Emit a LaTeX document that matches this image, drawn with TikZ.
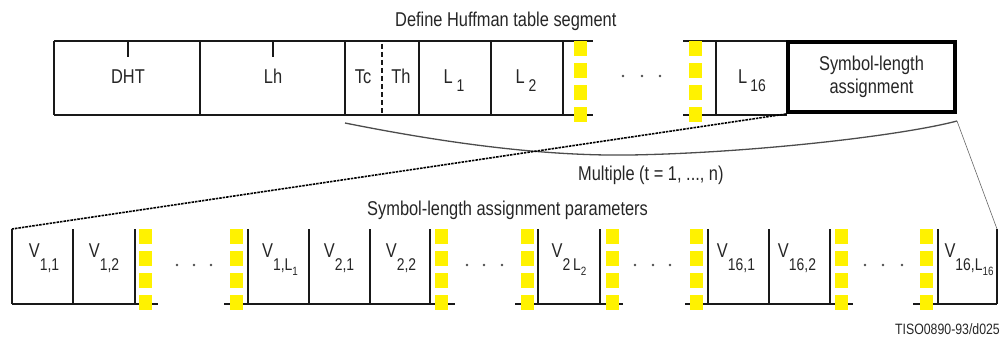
\documentclass[tikz,border=0pt]{standalone}
\usepackage{fontspec}
\setmainfont{Liberation Sans}[FakeStretch=0.82]
\newcommand{\lsub}[1]{\raisebox{-7pt}{\fontsize{17}{17}\selectfont #1}}
\newcommand{\vsub}[1]{\raisebox{-13pt}{\fontsize{17}{17}\selectfont #1}}
\newcommand{\vsubsub}[1]{\raisebox{-5pt}{\fontsize{12}{12}\selectfont #1}}
\begin{document}
\begin{tikzpicture}[x=1pt,y=-1pt,
  every node/.style={font=\fontsize{20}{23}\selectfont, text=black!85, inner sep=0pt},
  rule/.style={draw=black!90, line width=1.3pt},
  ycol/.style={fill=yellow, draw=none},
  thickbox/.style={draw=black, line width=4pt},
  dotline/.style={draw=black, line width=1.6pt, dash pattern=on 2.5pt off 1pt},
  curveline/.style={draw=black!70, line width=1.3pt},
  thinline/.style={draw=black!60, line width=0.6pt}
]
\useasboundingbox (0,0) rectangle (1001,337);

% ---------- top row ----------
\draw[rule] (54,41) -- (593,41) (54,115) -- (593,115);
\draw[rule] (683,41) -- (787,41) (683,115) -- (787,115);
\foreach \x in {54,200,345,419,491,563,716} \draw[rule] (\x,41) -- (\x,115);
\foreach \x in {128,273} \draw[rule] (\x,41) -- (\x,57);
\draw[rule, dash pattern=on 5pt off 3pt] (382,44) -- (382,115);

\node[thickbox, minimum width=167pt, minimum height=70pt, align=center] (sym) at (871.5,77) {Symbol-length\\assignment};

\node[anchor=base] (dht) at (128,84) {DHT};
\node[anchor=base] (lh) at (273,84) {Lh};
\node[anchor=base] (tc) at (363,84) {Tc};
\node[anchor=base] (th) at (401,84) {Th};
\node[anchor=base] (l1) at (454,84) {L\hspace{4pt}\lsub{1}};
\node[anchor=base] (l2) at (526,84) {L\hspace{4pt}\lsub{2}};
\node[anchor=base] (l16) at (752,84) {L\hspace{3pt}\lsub{16}};

\foreach \x in {623,642,660} \fill[black!70] (\x,76) circle (1.3pt);

% ---------- texts ----------
\node[anchor=base west] (title) at (395,27) {Define Huffman table segment};
\node[anchor=base west] (mult) at (578,180) {Multiple (t = 1, ..., n)};
\node[anchor=base west] (params) at (367,215) {Symbol-length assignment parameters};
\node[anchor=base east, font=\fontsize{15}{15}\selectfont] (tiso) at (1000,334) {TISO0890-93/d025};

% ---------- connectors ----------
\coordinate (tcb) at (345,123);
\coordinate (symse) at (957,121);
\coordinate (vtl) at (12,229);
\coordinate (vtr) at (997,229);
\draw[curveline] (tcb) .. controls (470,148) and (560,156) .. (630,155)
                 .. controls (750,153) and (900,136) .. (symse);
\draw[dotline] (sym.south west) -- (vtl);
\draw[thinline] (symse) -- (vtr);

% ---------- bottom row ----------
\foreach \a/\b in {12/158,224/455,515/623,685/853,913/997} \draw[rule] (\a,304) -- (\b,304);
\foreach \x in {12,73,135,248,309,370,430,538,600,708,769,830,938,997} \draw[rule] (\x,229) -- (\x,304);

\node[anchor=base] (v11) at (44,257) {V\vsub{1,1}};
\node[anchor=base] (v12) at (104,257) {V\vsub{1,2}};
\node[anchor=base] (v1l) at (280,257) {V\vsub{1,L\vsubsub{1}}};
\node[anchor=base] (v21) at (339,257) {V\vsub{2,1}};
\node[anchor=base] (v22) at (401,257) {V\vsub{2,2}};
\node[anchor=base] (v2l) at (569,257) {V\vsub{2\,L\vsubsub{2}}};
\node[anchor=base] (v161) at (736,257) {V\vsub{16,1}};
\node[anchor=base] (v162) at (797,257) {V\vsub{16,2}};
\node[anchor=base] (v16l) at (969,257) {V\vsub{16,L\vsubsub{16}}};

\foreach \x in {177,194,211,467,484,502,635,653,670,865,883,902} \fill[black!70] (\x,265) circle (1.3pt);

% ---------- yellow separators ----------
\foreach \x in {574,689} \foreach \d in {0,22,44,66} \fill[ycol] (\x,41+\d) rectangle (\x+13,56+\d);
\foreach \x in {139,230,435,521,606,690,835,920} \foreach \d in {0,22,44,66} \fill[ycol] (\x,229+\d) rectangle (\x+13,244+\d);
\end{tikzpicture}
\end{document}
